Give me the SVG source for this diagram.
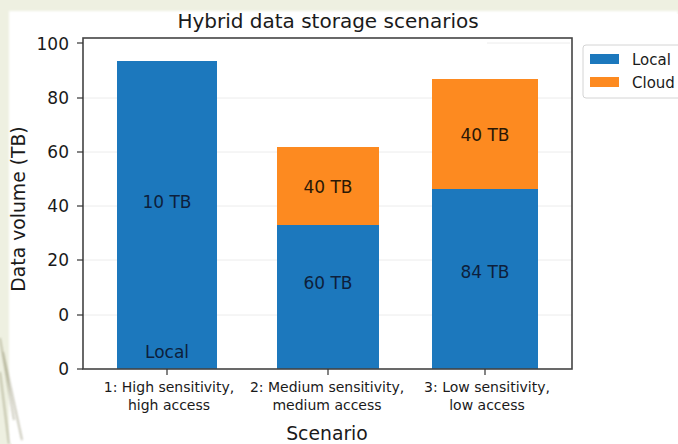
<svg xmlns="http://www.w3.org/2000/svg" width="678" height="444" viewBox="0 0 678 444">
  <style>
    text { font-family: "DejaVu Sans", "Liberation Sans", sans-serif; fill: #1a1a1a; }
    .title { font-size: 20px; text-anchor: middle; }
    .ytick { font-size: 17px; text-anchor: end; }
    .xtick { font-size: 14px; text-anchor: middle; }
    .axlabel { font-size: 18.8px; text-anchor: middle; }
    .barlab { font-size: 17px; text-anchor: middle; }
    .onblue { fill: #0d1f3c; }
    .onorange { fill: #2a1806; }
    .legtext { font-size: 15px; }
    .grid { stroke: #ececec; stroke-width: 1; }
    .tick { stroke: #333; stroke-width: 1.2; }
    .local { fill: #1c78bd; }
    .cloud { fill: #fd8a20; }
  </style>
  <defs>
    <filter id="soft" x="-20%" y="-20%" width="140%" height="140%">
      <feGaussianBlur stdDeviation="1.2"/>
    </filter>
  </defs>

  <!-- page backdrop -->
  <rect x="0" y="0" width="678" height="444" fill="#eef0e1"/>
  <rect x="9" y="11" width="669" height="433" fill="#ffffff" filter="url(#soft)"/>
  <rect x="12" y="14" width="666" height="430" fill="#ffffff"/>
  <g id="streaks" stroke="#7d7a55" stroke-width="1.4" fill="none" opacity="0.55" filter="url(#soft)">
    <path d="M0 338 L14 420"/>
    <path d="M3 352 L22 440"/>
    <path d="M0 372 L9 444"/>
  </g>

  <!-- gridlines -->
  <g id="grid">
    <line class="grid" x1="83" y1="98" x2="572" y2="98"/>
    <line class="grid" x1="83" y1="152" x2="572" y2="152"/>
    <line class="grid" x1="83" y1="206" x2="572" y2="206"/>
    <line class="grid" x1="83" y1="260" x2="572" y2="260"/>
    <line class="grid" x1="83" y1="315" x2="572" y2="315"/>
    <line class="grid" x1="487" y1="43" x2="570" y2="43"/>
  </g>

  <!-- bars -->
  <g id="bar1">
    <rect class="local" x="117" y="61" width="100" height="308"/>
    <text class="barlab onblue" x="167" y="208">10 TB</text>
    <text class="barlab onblue" x="167" y="358">Local</text>
  </g>
  <g id="bar2">
    <rect class="cloud" x="277" y="147" width="102" height="79"/>
    <rect class="local" x="277" y="225" width="102" height="144"/>
    <text class="barlab onorange" x="328" y="193">40 TB</text>
    <text class="barlab onblue" x="328" y="289">60 TB</text>
  </g>
  <g id="bar3">
    <rect class="cloud" x="432" y="79" width="106" height="111"/>
    <rect class="local" x="432" y="189" width="106" height="180"/>
    <text class="barlab onorange" x="485" y="141">40 TB</text>
    <text class="barlab onblue" x="485" y="278">84 TB</text>
  </g>

  <!-- axes frame -->
  <rect x="83" y="38" width="489" height="331" fill="none" stroke="#444" stroke-width="1.6"/>

  <!-- y axis ticks and labels -->
  <g id="yaxis">
    <line class="tick" x1="77" y1="43" x2="83" y2="43"/>
    <line class="tick" x1="77" y1="98" x2="83" y2="98"/>
    <line class="tick" x1="77" y1="152" x2="83" y2="152"/>
    <line class="tick" x1="77" y1="206" x2="83" y2="206"/>
    <line class="tick" x1="77" y1="260" x2="83" y2="260"/>
    <line class="tick" x1="77" y1="315" x2="83" y2="315"/>
    <line class="tick" x1="77" y1="369" x2="83" y2="369"/>
    <text class="ytick" x="69" y="49.5">100</text>
    <text class="ytick" x="69" y="104">80</text>
    <text class="ytick" x="69" y="158">60</text>
    <text class="ytick" x="69" y="212">40</text>
    <text class="ytick" x="69" y="266">20</text>
    <text class="ytick" x="69" y="321">0</text>
    <text class="ytick" x="69" y="375">0</text>
    <text class="axlabel" transform="translate(24.5 209) rotate(-90)">Data volume (TB)</text>
  </g>

  <!-- x axis ticks and labels -->
  <g id="xaxis">
    <line class="tick" x1="167" y1="369" x2="167" y2="375"/>
    <line class="tick" x1="328" y1="369" x2="328" y2="375"/>
    <line class="tick" x1="485" y1="369" x2="485" y2="375"/>
    <text class="xtick" x="169" y="392">1: High sensitivity,</text>
    <text class="xtick" x="169" y="410">high access</text>
    <text class="xtick" x="327" y="392">2: Medium sensitivity,</text>
    <text class="xtick" x="327" y="410">medium access</text>
    <text class="xtick" x="487" y="392">3: Low sensitivity,</text>
    <text class="xtick" x="487" y="410">low access</text>
    <text class="axlabel" x="327" y="440">Scenario</text>
  </g>

  <text class="title" x="328" y="28">Hybrid data storage scenarios</text>

  <!-- legend -->
  <g id="legend">
    <rect x="583" y="45" width="110" height="53" rx="3" fill="#fff" stroke="#d4d4d4" stroke-width="1"/>
    <rect class="local" x="590" y="54" width="29" height="10"/>
    <text class="legtext" x="632" y="65">Local</text>
    <rect class="cloud" x="590" y="77" width="29" height="10"/>
    <text class="legtext" x="632" y="88">Cloud</text>
  </g>
</svg>
